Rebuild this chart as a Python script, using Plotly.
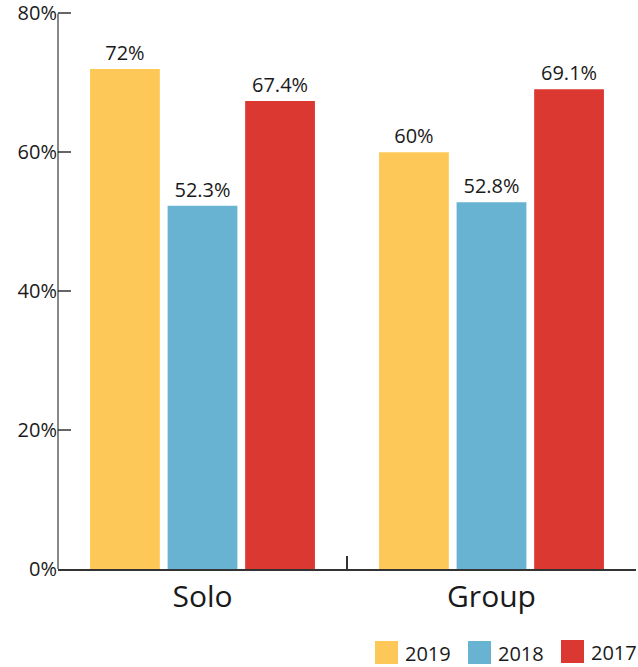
import plotly.graph_objects as go

categories = ["Solo", "Group"]
series_names = ["2019", "2018", "2017"]
values_2019 = [72, 60]
values_2018 = [52.3, 52.8]
values_2017 = [67.4, 69.1]
colors = ["#FDC858", "#69B3D2", "#DC3832"]
y_ticks = [0, 20, 40, 60, 80]
y_tick_labels = ["0%", "20%", "40%", "60%", "80%"]

series_values = [values_2019, values_2018, values_2017]

W, H = 638, 667
L, R, T, B = 58, 2, 10, 98
pw, ph = W - L - R, H - T - B

FONT = "Open Sans"

fig = go.Figure()
for name, vals, col in zip(series_names, series_values, colors):
    fig.add_trace(go.Bar(
        x=categories, y=vals, name=name, marker=dict(color=col, line=dict(width=0)),
        text=[f"{v:g}%" for v in vals], texttemplate="%{text}", textposition="outside",
        cliponaxis=False,
        textfont=dict(family=FONT, size=20, color="#1a1a1a"),
        showlegend=False,
    ))

# manual legend (large square swatches like the reference)
def px_x(x):
    return (x - L) / pw

def px_y(y):
    return (H - B - y) / ph

legend_sq_left = [375, 468, 561]
legend_sq_top = [641, 641, 640]
shapes = []
annotations = []
for name, col, xl, yt in zip(series_names, colors, legend_sq_left, legend_sq_top):
    shapes.append(dict(type="rect", xref="paper", yref="paper",
                       x0=px_x(xl), x1=px_x(xl + 23), y0=px_y(yt + 23), y1=px_y(yt),
                       fillcolor=col, line=dict(width=0)))
    annotations.append(dict(text=name, xref="paper", yref="paper",
                            x=px_x(xl + 28), y=px_y(yt + 12), xanchor="left", yanchor="middle",
                            showarrow=False, font=dict(family=FONT, size=20, color="#1a1a1a")))

# y axis line only runs from 0% to 80% (plot area extends a hair above)
shapes.append(dict(type="line", xref="paper", yref="y", x0=0, x1=0, y0=0, y1=80,
                   line=dict(color="#111111", width=1)))

fig.update_layout(
    width=W, height=H,
    margin=dict(l=L, r=R, t=T, b=B, pad=0, autoexpand=False),
    paper_bgcolor="white", plot_bgcolor="white",
    barmode="group", bargap=0.195, bargroupgap=0.1,
    showlegend=False,
    shapes=shapes, annotations=annotations,
    font=dict(family=FONT, color="#1a1a1a"),
)
fig.update_xaxes(
    showline=True, linecolor="#333333", linewidth=1.5, automargin=False,
    ticks="inside", tickson="boundaries", ticklen=13, tickcolor="#333333", tickwidth=1.5,
    tickfont=dict(family=FONT, size=30, color="#1a1a1a"),
    showgrid=False, zeroline=False, fixedrange=True,
)
fig.update_yaxes(
    range=[0, 80.5], tickmode="array", tickvals=y_ticks, ticktext=y_tick_labels,
    showline=False, ticklabeloverflow="allow", automargin=False,
    ticks="inside", ticklen=13, tickcolor="#666666", tickwidth=1.5,
    tickfont=dict(family=FONT, size=20, color="#1a1a1a"),
    showgrid=False, zeroline=False, fixedrange=True,
)

fig.write_html("out.html", config={"displayModeBar": False})
